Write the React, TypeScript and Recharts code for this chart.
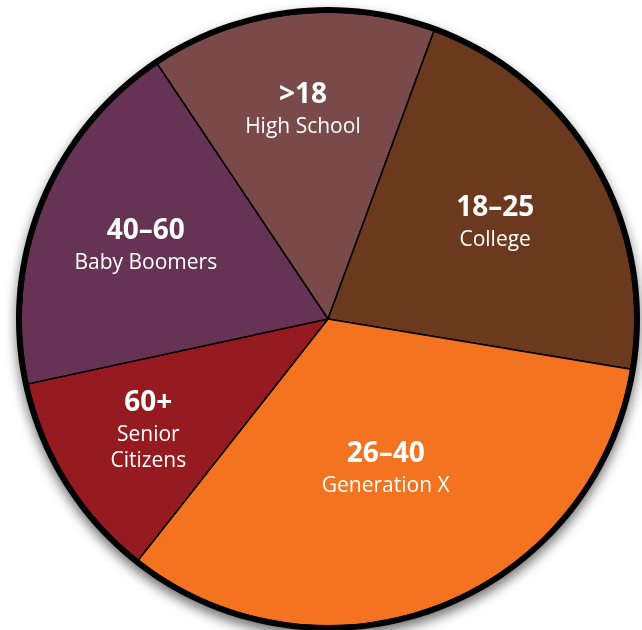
import { PieChart, Pie, Cell } from "recharts";

const groups = ["High School", "College", "Generation X", "Senior Citizens", "Baby Boomers"];
const ageRanges = [">18", "18–25", "26–40", "60+", "40–60"];
const shares = [15, 22, 33, 11, 19];
const nameLines = [["High School"], ["College"], ["Generation X"], ["Senior", "Citizens"], ["Baby Boomers"]];

const COLORS = ["#7a4a4a", "#6b3a1e", "#f37321", "#961b20", "#673355"];
// label distance from the centre, as a share of the radius
const LABEL_POS = [0.69, 0.63, 0.52, 0.69, 0.64];

const data = groups.map((g, i) => ({ name: g, value: shares[i] }));
const ring = [{ name: "ring", value: 1 }];

const RAD = Math.PI / 180;
const FONT = "'Open Sans', sans-serif";

function renderLabel(props: any) {
  const { cx, cy, midAngle, outerRadius, index } = props;
  const r = outerRadius * LABEL_POS[index];
  const x = cx + r * Math.cos(-midAngle * RAD);
  const y = cy + r * Math.sin(-midAngle * RAD);
  const lines = nameLines[index];
  const top = lines.length > 1 ? -31 : -17;
  return (
    <g>
      <text
        x={x}
        y={y + top}
        textAnchor="middle"
        dominantBaseline="central"
        fill="#fff"
        fontSize={28}
        fontWeight={700}
        fontFamily={FONT}
      >
        {ageRanges[index]}
      </text>
      {lines.map((ln, k) => (
        <text
          key={ln}
          x={x}
          y={y + top + 33 + k * 26}
          textAnchor="middle"
          dominantBaseline="central"
          fill="#fff"
          fontSize={21}
          fontFamily={FONT}
        >
          {ln}
        </text>
      ))}
    </g>
  );
}

export default function App() {
  return (
    <div
      style={{
        position: "absolute",
        left: 0,
        top: 0,
        width: 642,
        height: 630,
        filter: "drop-shadow(0px 6px 6px rgba(0,0,0,0.55))",
      }}
    >
      <PieChart width={642} height={630} margin={{ top: 0, right: 0, bottom: 0, left: 0 }}>
        <Pie
          data={data}
          dataKey="value"
          cx={328}
          cy={319}
          innerRadius={0}
          outerRadius={307}
          startAngle={123.8}
          endAngle={123.8 - 360}
          stroke="#000"
          strokeWidth={1.5}
          labelLine={false}
          label={renderLabel}
          isAnimationActive={false}
        >
          {data.map((d, i) => (
            <Cell key={d.name} fill={COLORS[i]} />
          ))}
        </Pie>
        <Pie
          data={ring}
          dataKey="value"
          cx={328}
          cy={319}
          innerRadius={306}
          outerRadius={312}
          startAngle={90}
          endAngle={-270}
          fill="#000"
          stroke="none"
          isAnimationActive={false}
        />
      </PieChart>
    </div>
  );
}
